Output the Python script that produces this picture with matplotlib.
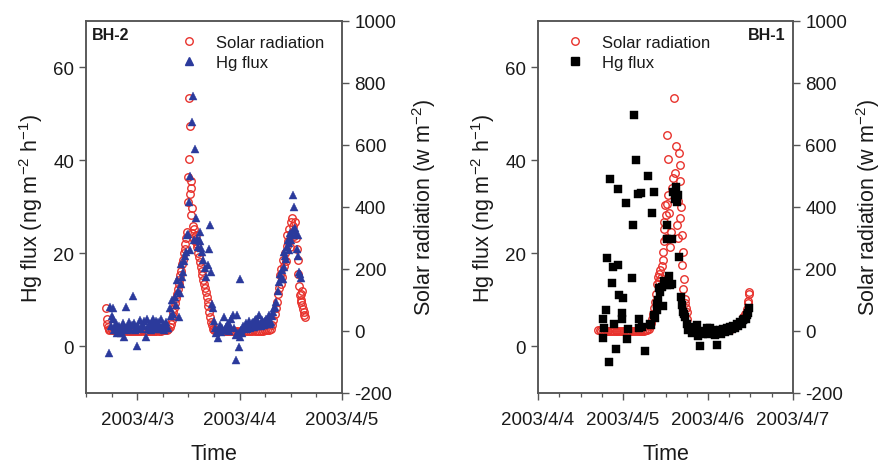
import matplotlib
matplotlib.use("Agg")
import matplotlib.pyplot as plt
import matplotlib.dates as mdates
from matplotlib.lines import Line2D
import pandas as pd

plt.rcParams["font.family"] = ["Liberation Sans", "DejaVu Sans"]
plt.rcParams["mathtext.default"] = "regular"
plt.rcParams["axes.unicode_minus"] = False

# ---------------- BH-2 (hours after 2003-04-02 00:00) ----------------
bh2_sr_hours = [
    16.8, 16.9, 17.0, 17.1, 17.3,
    17.5, 18.0, 18.5, 19.0, 19.5, 20.0, 20.5, 21.0, 21.5, 22.0, 22.5, 23.0, 23.5, 24.0,
    24.5, 25.0, 25.5, 26.0, 26.5, 27.0, 27.5, 28.0, 28.5, 29.0, 29.5, 30.0, 30.5, 31.0,
    31.3, 31.6, 31.9, 32.1, 32.3, 32.5, 32.7, 32.9, 33.1, 33.3, 33.5, 33.7, 33.9, 34.1,
    34.3, 34.5, 34.7, 34.9, 35.1, 35.3, 35.5, 35.7, 35.9, 36.0, 36.1, 36.2, 36.3, 36.4,
    36.5, 36.6, 36.7, 36.8, 36.9, 37.0, 37.1, 37.3, 37.5, 37.7, 37.9, 38.1, 38.3, 38.5,
    38.7, 38.9, 39.1, 39.3, 39.5, 39.7, 39.9, 40.1, 40.3, 40.5, 40.7, 40.9, 41.1, 41.3,
    41.5, 41.7,
    42.0, 42.5, 43.0, 43.5, 44.0, 44.5, 45.0, 45.5, 46.0, 46.5, 47.0, 47.5, 48.0, 48.5,
    49.0, 49.5, 50.0, 50.5, 51.0, 51.5, 52.0, 52.5, 53.0, 53.5, 54.0, 54.5, 55.0,
    55.3, 55.6, 55.9, 56.2, 56.5, 56.8, 57.0, 57.2, 57.4, 57.6, 57.8, 58.0, 58.2, 58.4,
    58.6, 58.8, 59.0, 59.2, 59.4, 59.6, 59.8, 60.0, 60.2, 60.4, 60.6, 60.8, 61.0, 61.2,
    61.4, 61.6, 61.8, 62.0, 62.2, 62.3, 62.4, 62.5, 62.6, 62.7, 62.8, 63.0, 63.2, 63.4,
]
bh2_sr = [
    75, 40, 22, 12, 6,
    4, 3, 2, 2, 1, 1, 0, 0, 1, 0, 0, 0, 1, 0,
    0, 0, 0, 1, 0, 0, 0, 1, 0, 0, 1, 2, 3, 4,
    6, 12, 22, 35, 48, 60, 75, 90, 105, 118, 135, 150, 165, 180,
    195, 215, 230, 250, 265, 280, 300, 320, 416, 497, 751, 556, 661, 442,
    483, 374, 461, 396, 315, 340, 299, 330, 290, 310, 270, 282, 250, 240,
    224, 205, 195, 180, 165, 150, 140, 125, 110, 95, 80, 62, 45, 30,
    18, 8,
    3, 2, 1, 0, 0, 1, 0, 0, 0, 1, 0, 0, 0, 1,
    0, 0, 0, 1, 0, 0, 0, 1, 0, 1, 2, 3, 4,
    8, 18, 35, 55, 75, 95, 120, 140, 180, 150, 200, 175, 230, 210,
    250, 225, 275, 309, 290, 330, 270, 350, 364, 320, 340, 305, 353, 300,
    265, 230, 185, 146, 115, 120, 95, 100, 130, 85, 72, 60, 50, 45,
]

bh2_hg_hours = [
    17.45, 17.6, 17.8, 18.0, 18.24, 18.38, 18.6, 18.78, 19.0, 19.3, 19.55, 19.8, 20.11,
    20.4, 20.6, 20.88, 21.1, 21.35, 21.6, 21.9, 22.12, 22.4, 22.68, 22.91, 23.2, 23.5,
    23.75, 23.99, 24.3, 24.62, 24.9, 25.1, 25.39, 25.7, 26.02, 26.19, 26.5, 26.7, 26.96,
    27.2, 27.5, 27.73, 27.95, 28.13, 28.4, 28.65, 28.9, 29.2, 29.45, 29.69, 29.95, 30.2,
    30.46, 30.7, 30.95, 31.23, 31.63, 31.9, 32.26, 32.5, 32.8, 33.1, 33.34, 33.6, 33.8,
    33.97, 34.2, 34.37, 34.55, 34.74, 34.9, 35.1, 35.37, 35.67, 35.9, 36.14, 36.3, 36.47,
    36.94, 37.08, 37.3, 37.55, 37.87, 38.1, 38.3, 38.48, 38.64, 38.8, 39.0, 39.27, 39.5,
    39.81, 40.1, 40.5, 40.81, 41.14, 41.3, 41.52, 41.75, 42.0, 42.15, 42.5, 42.92, 43.1,
    43.32, 43.6, 43.9, 44.25, 44.5, 44.88, 45.2, 45.5, 45.8, 46.05, 46.42, 46.7, 47.06,
    47.2, 47.36, 47.6, 47.83, 48.0, 48.15, 48.4, 48.62, 48.9, 49.16, 49.4, 49.7, 49.93,
    50.2, 50.5, 50.8, 51.1, 51.4, 51.6, 51.89, 52.1, 52.4, 52.66, 52.9, 53.2, 53.44,
    53.7, 54.0, 54.23, 54.5, 54.75, 55.0, 55.2, 55.4, 55.7, 55.9, 56.17, 56.4, 56.57,
    56.9, 57.17, 57.4, 57.74, 57.97, 58.11, 58.3, 58.51, 58.7, 58.9, 59.1, 59.28, 59.5,
    59.67, 59.9, 60.1, 60.31, 60.45, 60.6, 60.84, 61.0, 61.2, 61.4, 61.61, 61.8, 62.01,
    62.2, 62.4,
]
bh2_hg = [
    -1.5, 8.5, 4.5, 6.5, 8.2, 6.0, 3.5, 4.2, 5.0, 3.0, 3.5, 4.5, 2.8,
    3.8, 5.0, 2.1, 4.0, 8.5, 3.5, 4.5, 5.3, 3.8, 4.6, 10.9, 5.0, 3.6,
    4.2, 0.1, 4.5, 5.7, 3.8, 4.3, 4.6, 5.5, 2.1, 6.0, 3.8, 4.8, 4.9,
    3.6, 5.2, 6.0, 3.9, 4.6, 5.5, 3.8, 5.3, 4.2, 3.7, 6.0, 4.8, 3.5,
    4.6, 5.2, 3.9, 3.9, 8.2, 6.5, 10.0, 7.0, 10.7, 9.0, 14.3, 12.0, 6.4,
    11.4, 13.5, 17.8, 15.0, 16.1, 18.3, 19.5, 20.4, 23.9, 24.1, 31.0, 20.7, 36.7,
    48.3, 53.9, 23.0, 42.4, 27.7, 23.2, 21.5, 22.9, 24.7, 22.6, 21.1, 20.4, 18.5,
    16.8, 15.0, 17.5, 20.9, 26.1, 16.0, 9.2, 8.2, 5.5, 3.9, 3.0, 1.9, 3.5,
    4.6, 3.2, 4.0, 6.4, 3.5, 4.2, 5.0, 3.3, 4.5, 6.0, 6.7, 4.0, -2.9,
    2.5, 6.7, 3.0, -0.1, 2.0, 14.6, 3.6, 2.8, 4.4, 3.9, 5.0, 3.7, 4.6,
    5.5, 4.0, 5.0, 5.3, 4.2, 5.8, 6.0, 4.5, 5.2, 6.7, 4.3, 5.6, 5.3,
    4.6, 5.5, 6.0, 4.8, 5.6, 6.7, 4.8, 5.3, 6.5, 7.5, 8.2, 8.5, 9.6,
    12.0, 13.9, 15.5, 14.6, 16.4, 14.6, 17.0, 20.4, 19.5, 18.9, 21.5, 22.9, 20.7,
    22.2, 24.5, 23.0, 23.9, 32.5, 25.0, 30.0, 25.4, 24.5, 21.0, 23.9, 19.5, 16.1,
    15.5, 14.8,
]

# ---------------- BH-1 (hours after 2003-04-04 00:00) ----------------
bh1_sr_hours = [
    16.9, 17.4, 17.9, 18.4, 18.9, 19.4, 19.9, 20.4, 20.9, 21.4, 21.9, 22.4, 22.9, 23.4,
    23.9, 24.4, 24.9, 25.4, 25.9, 26.4, 26.9, 27.4, 27.9, 28.4, 28.9, 29.4, 29.9, 30.4,
    30.9,
    31.2, 31.5, 31.8, 32.1, 32.4, 32.7, 33.0, 33.3, 33.6, 33.9, 34.1, 34.3, 34.45, 34.7,
    35.0, 35.21, 35.38, 35.5, 35.58, 35.7, 35.86, 36.0, 36.15, 36.34, 36.5, 36.6, 36.8,
    37.0, 37.3, 37.6, 37.9, 38.21, 38.41, 38.69, 38.97, 39.17, 39.4, 39.6, 39.9, 40.0,
    40.1, 40.2, 40.4, 40.58, 40.7, 40.8, 41.03, 41.2, 41.4, 41.6, 41.8, 41.99, 42.2,
    42.44, 42.7, 43.0,
    43.5, 44.0, 44.5, 45.0, 45.5, 46.0, 46.5, 47.0, 47.5, 48.0, 48.5, 49.0, 49.5, 50.0,
    50.5, 51.0, 51.5, 52.0, 52.5,
    53.0, 53.5, 54.0, 54.5, 55.0, 55.5, 56.0, 56.5, 57.0, 57.5, 58.0, 58.5, 58.9, 59.2,
    59.4, 59.6, 59.7,
]
bh1_sr = [
    3, 2, 1, 0, 0, 1, 0, 0, 0, 1, 0, 0, 0, 1,
    0, 0, 0, 1, 0, 0, 0, 1, 0, 0, 1, 0, 1, 2,
    4,
    8, 15, 25, 40, 55, 75, 95, 120, 150, 175, 185, 160, 196, 170,
    210, 228, 255, 290, 353, 330, 407, 300, 374, 632, 410, 556, 439,
    380, 270, 320, 460, 494, 751, 510, 596, 342, 420, 300, 575, 537,
    483, 364, 400, 309, 212, 136, 255, 169, 104, 90, 75, 61, 40,
    17, 8, 3,
    1, 0, 0, 1, 0, 0, 0, 1, 0, 0, 1, 0, 0, 1,
    0, 1, 1, 2, 2,
    3, 5, 6, 8, 10, 12, 15, 20, 28, 35, 45, 55, 70, 98,
    91, 126, 120,
]

bh1_hg_hours = [
    18.27, 18.44, 18.6, 19.2, 19.4, 20.13, 20.33, 20.81, 21.1, 21.46, 22.03, 22.5, 22.68,
    22.96, 23.64, 23.8, 24.09, 24.85, 25.22, 25.5, 26.46, 26.74, 27.11, 27.67, 28.32, 28.4,
    28.52, 29.09, 29.28, 30.22, 31.15, 31.63, 31.83, 32.11, 32.76, 32.84, 33.04, 33.52,
    33.6, 33.97, 34.1, 34.45, 34.93, 35.38, 35.58, 36.3, 36.34, 36.51, 37.08, 37.28,
    37.76, 37.8, 38.21, 38.69, 38.97, 39.17, 39.62, 39.9, 40.3, 40.58, 40.86, 41.2,
    41.51, 41.99, 42.4, 42.92, 43.4, 43.86, 44.3, 44.82, 45.27, 45.75, 46.2, 46.7,
    47.16, 47.64, 48.1, 48.57, 49.0, 49.5, 50.0, 50.46, 50.9, 51.4, 51.8, 52.3, 52.8,
    53.3, 53.8, 54.22, 54.7, 55.2, 55.7, 56.2, 56.6, 57.04, 57.5, 57.9, 58.3, 58.6,
    58.94, 59.3, 59.67,
]
bh1_hg = [
    1.9, 6.0, 3.9, 7.8, 19.1, -3.3, 36.1, 13.7, 17.1, 4.9, -0.6, 17.5, 33.8,
    11.0, 7.3, 6.0, 10.5, 30.9, 1.7, 3.7, 14.8, 26.1, 49.8, 40.1, 32.7, 6.0,
    4.0, 33.0, 4.2, -0.9, 36.7, 4.9, 4.7, 28.6, 33.3, 6.7, 6.2, 7.8,
    9.2, 10.0, 12.5, 11.8, 12.8, 8.8, 14.0, 26.1, 13.2, 23.2, 15.2, 13.3,
    13.5, 23.2, 33.3, 31.8, 34.3, 31.0, 32.5, 19.3, 10.7, 8.9, 7.5, 6.9,
    6.4, 4.9, 3.6, 4.2, 2.8, 3.2, 3.9, 4.6, 2.3, 0.2, 3.4, 2.6,
    3.2, 3.9, 2.7, 3.9, 2.9, 3.6, 2.5, 0.4, 3.4, 3.5, 2.6, 3.8, 3.1,
    4.0, 3.3, 4.2, 3.7, 4.5, 4.0, 4.8, 4.4, 5.3, 4.8, 5.6, 6.0, 5.9,
    6.7, 7.2, 8.2,
]

panels = [
    dict(label="BH-2", start="2003-04-02", sr_h=bh2_sr_hours, sr=bh2_sr,
         hg_h=bh2_hg_hours, hg=bh2_hg, hg_marker="^", hg_color="#2b3a9c",
         xlim=("2003-04-02 12:00", "2003-04-05 00:00"),
         rect=[0.0976, 0.1509, 0.2906, 0.8017], leg_x=0.370, tag_x=0.022, tag_ha="left",
         rpad=10),
    dict(label="BH-1", start="2003-04-04", sr_h=bh1_sr_hours, sr=bh1_sr,
         hg_h=bh1_hg_hours, hg=bh1_hg, hg_marker="s", hg_color="#000000",
         xlim=("2003-04-04 00:00", "2003-04-07 00:00"),
         rect=[0.6107, 0.1509, 0.2894, 0.8017], leg_x=0.112, tag_x=0.969, tag_ha="right",
         rpad=5),
]

RED = "#e8322c"
SPINE = "#555555"
TXT = "#1a1a1a"

fig = plt.figure(figsize=(8.81, 4.64), dpi=100)


def date_label(x, pos=None):
    d = mdates.num2date(x)
    return f"{d.year}/{d.month}/{d.day}"


for p in panels:
    ax = fig.add_axes(p["rect"])
    ax2 = ax.twinx()
    ax.set_zorder(ax2.get_zorder() + 1)
    ax.patch.set_visible(False)

    base = pd.Timestamp(p["start"])
    t_sr = base + pd.to_timedelta(p["sr_h"], unit="h")
    t_hg = base + pd.to_timedelta(p["hg_h"], unit="h")

    ax2.plot(t_sr, p["sr"], linestyle="none", marker="o", markersize=5.4,
             markerfacecolor="none", markeredgecolor=RED, markeredgewidth=1.0)
    ms = 5.8 if p["hg_marker"] == "^" else 5.2
    ax.plot(t_hg, p["hg"], linestyle="none", marker=p["hg_marker"], markersize=ms,
            color=p["hg_color"], markeredgewidth=0.3)

    ax.set_xlim(pd.Timestamp(p["xlim"][0]), pd.Timestamp(p["xlim"][1]))
    ax.set_ylim(-10, 70)
    ax.set_yticks([0, 20, 40, 60])
    ax2.set_ylim(-200, 1000)
    ax2.set_yticks(range(-200, 1001, 200))

    ax.xaxis.set_major_locator(mdates.DayLocator())
    ax.xaxis.set_minor_locator(mdates.HourLocator(byhour=[0, 6, 12, 18]))
    ax.xaxis.set_major_formatter(plt.FuncFormatter(date_label))

    for a in (ax, ax2):
        for s in a.spines.values():
            s.set_color(SPINE)
            s.set_linewidth(1.1)
        a.tick_params(which="major", direction="out", length=5, width=1.0,
                      color=SPINE, labelsize=13.5, labelcolor=TXT)
        a.tick_params(which="minor", direction="out", length=3, width=0.9, color=SPINE)
    ax.tick_params(axis="x", pad=8)
    ax2.tick_params(axis="y", pad=4)

    ax.set_ylabel("Hg flux (ng m$^{-2}$ h$^{-1}$)", fontsize=15.5, color=TXT, labelpad=6)
    ax2.set_ylabel("Solar radiation (w m$^{-2}$)", fontsize=15.5, color=TXT,
                   labelpad=p["rpad"])
    ax.set_xlabel("Time", fontsize=15.5, color=TXT, labelpad=11)

    ax.text(p["tag_x"], 0.963, p["label"], transform=ax.transAxes, ha=p["tag_ha"],
            va="center", fontsize=11.5, fontweight="bold", color=TXT)

    handles = [
        Line2D([], [], linestyle="none", marker="o", markersize=5.4,
               markerfacecolor="none", markeredgecolor=RED, markeredgewidth=1.0),
        Line2D([], [], linestyle="none", marker=p["hg_marker"], markersize=ms,
               color=p["hg_color"]),
    ]
    ax.legend(handles, ["Solar radiation", "Hg flux"], loc="upper left",
              bbox_to_anchor=(p["leg_x"], 0.962), frameon=False, fontsize=12,
              handlelength=1.0, handletextpad=1.1, labelspacing=0.3,
              borderpad=0, borderaxespad=0, labelcolor=TXT)

fig.savefig("out.png", dpi=100)
